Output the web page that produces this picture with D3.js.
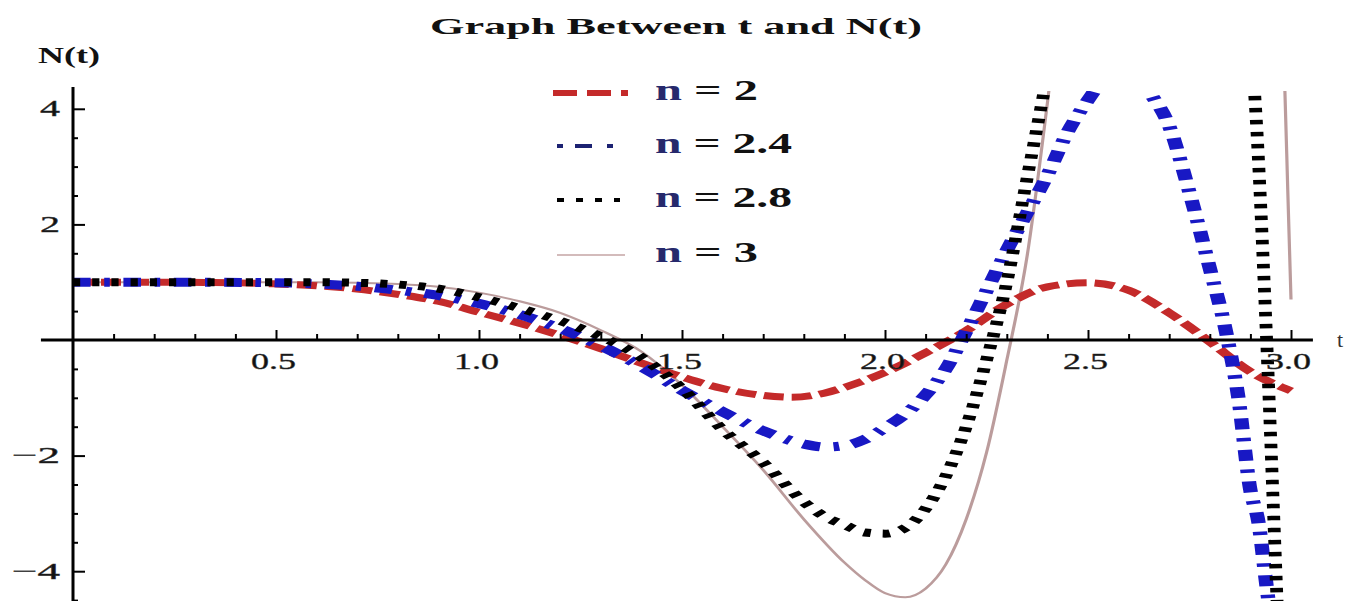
<!DOCTYPE html>
<html>
<head>
<meta charset="utf-8">
<script src="https://cdn.jsdelivr.net/npm/d3@7/dist/d3.min.js"></script>
<style>
  body { margin: 0; background: #fff; }
  svg { display: block; }
</style>
</head>
<body>
<svg id="chart"></svg>
<script>
// values
const tN2 = [0, 0.2, 0.4, 0.5, 0.6, 0.7, 0.8, 0.9, 1.0, 1.1, 1.2, 1.3, 1.4, 1.5, 1.6, 1.7, 1.77, 1.85, 1.9, 2.0, 2.1, 2.2, 2.3, 2.4, 2.5, 2.6, 2.7, 2.8, 2.9, 3.0];
const vN2 = [1, 1, 0.99, 0.97, 0.94, 0.88, 0.79, 0.67, 0.48, 0.29, 0.08, -0.15, -0.4, -0.64, -0.84, -0.96, -0.99, -0.92, -0.82, -0.56, -0.22, 0.16, 0.62, 0.92, 0.99, 0.86, 0.47, -0.03, -0.55, -0.88];

const tN24 = [0, 0.3, 0.5, 0.6, 0.7, 0.8, 0.9, 1.0, 1.1, 1.2, 1.3, 1.4, 1.5, 1.6, 1.7, 1.8, 1.85, 1.9, 1.95, 2.0, 2.05, 2.1, 2.15, 2.2, 2.25, 2.3, 2.35, 2.4, 2.45, 2.5, 2.55, 2.6, 2.65, 2.7, 2.75, 2.8, 2.84, 2.87, 2.9, 2.92, 2.94, 2.97];
const vN24 = [1, 1, 0.99, 0.97, 0.93, 0.86, 0.77, 0.63, 0.44, 0.2, -0.1, -0.46, -0.87, -1.24, -1.57, -1.8, -1.85, -1.83, -1.72, -1.52, -1.28, -0.95, -0.5, 0.15, 0.85, 1.55, 2.2, 2.85, 3.6, 4.15, 4.6, 4.75, 4.3, 3.7, 2.55, 1.24, 0.14, -0.98, -2.6, -3.16, -4.27, -5.8];

const tN28 = [0, 0.3, 0.5, 0.6, 0.7, 0.8, 0.9, 1.0, 1.1, 1.2, 1.3, 1.4, 1.5, 1.6, 1.7, 1.8, 1.85, 1.9, 1.95, 2.0, 2.05, 2.1, 2.15, 2.2, 2.25, 2.3, 2.35, 2.4, 2.45, 2.55, 2.7, 2.82, 2.88, 2.91, 2.94, 2.965, 2.98];
const vN28 = [1, 1, 1, 1, 0.99, 0.96, 0.89, 0.74, 0.55, 0.33, 0.06, -0.3, -0.84, -1.55, -2.12, -2.8, -3.05, -3.2, -3.33, -3.35, -3.25, -2.92, -2.35, -1.5, -0.35, 1.0, 2.8, 4.6, 6.5, 9, 10, 8, 6, 4.3, 0, -4.4, -7];

const tN3 = [0, 0.3, 0.5, 0.6, 0.7, 0.8, 0.9, 1.0, 1.1, 1.2, 1.3, 1.4, 1.5, 1.6, 1.7, 1.8, 1.9, 1.95, 2.0, 2.05, 2.1, 2.15, 2.2, 2.25, 2.3, 2.35, 2.4, 2.45, 2.55, 2.7, 2.85, 2.95, 2.985, 2.992, 3.0];
const vN3 = [1, 1, 1, 1, 0.99, 0.97, 0.92, 0.82, 0.67, 0.47, 0.17, -0.2, -0.78, -1.5, -2.25, -3.1, -3.85, -4.15, -4.38, -4.45, -4.3, -3.88, -3.1, -1.95, -0.35, 1.45, 4.1, 7, 11, 13, 12, 8, 4.3, 2.6, 0.7];

const legendNames = ['n = 2', 'n = 2.4', 'n = 2.8', 'n = 3'];
const xMajorTicks = [0.5, 1.0, 1.5, 2.0, 2.5, 3.0];
const xTickLabels = ['0.5', '1.0', '1.5', '2.0', '2.5', '3.0'];
const yMajorTicks = [-4, -2, 2, 4];
const yTickLabels = ['\u22124', '\u22122', '2', '4'];

const W = 1349, H = 601;
const SX = 1.6; // the picture is stretched sideways, strokes too

const svg = d3.select('#chart')
  .attr('width', W)
  .attr('height', H)
  .style('background', '#fff');

const x = d3.scaleLinear().domain([0, 3]).range([73, 1291]);
const xIn = d3.scaleLinear().domain([0, 3]).range([73 / SX, 1291 / SX]);
const y = d3.scaleLinear().domain([-4, 4]).range([571.2, 108.8]);

const serif = '"Liberation Serif", "Times New Roman", serif';

// title and axis names
svg.append('text')
  .attr('x', 430).attr('y', 34)
  .attr('font-family', serif).attr('font-weight', 'bold').attr('font-size', 24)
  .attr('textLength', 492).attr('lengthAdjust', 'spacingAndGlyphs')
  .attr('fill', '#111')
  .text('Graph Between t and N(t)');

svg.append('text')
  .attr('x', 38).attr('y', 63)
  .attr('font-family', serif).attr('font-weight', 'bold').attr('font-size', 24)
  .attr('textLength', 62).attr('lengthAdjust', 'spacingAndGlyphs')
  .attr('fill', '#111')
  .text('N(t)');

svg.append('text')
  .attr('x', 1337).attr('y', 347)
  .attr('font-family', serif).attr('font-size', 22)
  .attr('fill', '#333')
  .text('t');

// curves
const styles = [
  { color: '#c42a2a', width: 7, dash: '12.5,5' },
  { color: '#1818c4', width: 9, dash: '11,8.5,3.5,8.5' },
  { color: '#000', width: 8, dash: '4.5,7.5' },
  { color: '#bb9c9c', width: 2, dash: null }
];
const data = [
  tN2.map((t, i) => ({ t, v: vN2[i] })),
  tN24.map((t, i) => ({ t, v: vN24[i] })),
  tN28.map((t, i) => ({ t, v: vN28[i] })),
  tN3.map((t, i) => ({ t, v: vN3[i] }))
];

svg.append('clipPath').attr('id', 'plotClip')
  .append('rect')
  .attr('x', 60).attr('y', 91)
  .attr('width', 1260).attr('height', H - 91);

const line = d3.line()
  .x(d => xIn(d.t))
  .y(d => y(d.v))
  .curve(d3.curveMonotoneX);

const plot = svg.append('g').attr('clip-path', 'url(#plotClip)')
  .append('g').attr('transform', `scale(${SX},1)`);

// draw n=3 first so the thick ones sit on top, like the picture
[3, 0, 1, 2].forEach(i => {
  plot.append('path')
    .datum(data[i])
    .attr('fill', 'none')
    .attr('stroke', styles[i].color)
    .attr('stroke-width', styles[i].width)
    .attr('stroke-dasharray', styles[i].dash)
    .attr('stroke-linecap', 'butt')
    .attr('d', line);
});

// x axis
const axisY = y(0);
svg.append('line')
  .attr('x1', x(-0.079)).attr('x2', x(3.054))
  .attr('y1', axisY).attr('y2', axisY)
  .attr('stroke', '#000').attr('stroke-width', 3);

const xMinor = d3.range(1, 31).map(d => d / 10).filter(d => Math.abs(d * 2 - Math.round(d * 2)) > 1e-6);

svg.append('g')
  .attr('transform', `translate(0,${axisY})`)
  .call(d3.axisBottom(x).tickValues(xMinor).tickSizeInner(-6).tickSizeOuter(0).tickFormat(''))
  .call(g => g.select('.domain').remove())
  .call(g => g.selectAll('line').attr('stroke-width', 2));

const gx = svg.append('g')
  .attr('transform', `translate(0,${axisY})`)
  .call(d3.axisBottom(x).tickValues(xMajorTicks).tickSizeInner(-10).tickSizeOuter(0)
    .tickPadding(29).tickFormat((d, i) => xTickLabels[i]))
  .call(g => g.select('.domain').remove())
  .call(g => g.selectAll('line').attr('stroke-width', 2));

gx.selectAll('text')
  .attr('font-family', serif).attr('font-size', 24).attr('fill', '#111')
  .attr('stroke', '#333').attr('stroke-width', 0.4)
  .attr('dy', 0).attr('dx', -3)
  .attr('textLength', 45).attr('lengthAdjust', 'spacingAndGlyphs');

// y axis
svg.append('line')
  .attr('x1', x(0)).attr('x2', x(0))
  .attr('y1', 87).attr('y2', H)
  .attr('stroke', '#000').attr('stroke-width', 3);

const yMinor = d3.range(-9, 9).map(d => d / 2).filter(d => d !== 0 && d % 2 !== 0);

svg.append('g')
  .attr('transform', `translate(${x(0)},0)`)
  .call(d3.axisLeft(y).tickValues(yMinor).tickSizeInner(-5).tickSizeOuter(0).tickFormat(''))
  .call(g => g.select('.domain').remove())
  .call(g => g.selectAll('line').attr('stroke-width', 2));

const gy = svg.append('g')
  .attr('transform', `translate(${x(0)},0)`)
  .call(d3.axisLeft(y).tickValues(yMajorTicks).tickSizeInner(-12).tickSizeOuter(0)
    .tickPadding(13).tickFormat((d, i) => yTickLabels[i]))
  .call(g => g.select('.domain').remove())
  .call(g => g.selectAll('line').attr('stroke-width', 2));

gy.selectAll('text')
  .attr('font-family', serif).attr('font-size', 24).attr('fill', '#111')
  .attr('stroke', '#333').attr('stroke-width', 0.4)
  .attr('dy', 7)
  .attr('textLength', (d, i) => yTickLabels[i].length > 1 ? 48 : 20)
  .attr('lengthAdjust', 'spacingAndGlyphs');

// legend
const legY = [93, 146, 200, 255];
const legSample = [
  { x1: 553, x2: 628, width: 6, dash: '24,10', color: '#c42a2a' },
  { x1: 557, x2: 613, width: 4, dash: '6,12,17,15', color: '#1c2272' },
  { x1: 557, x2: 620, width: 4, dash: '7,12', color: '#000' },
  { x1: 557, x2: 625, width: 1.6, dash: null, color: '#c4a4a4' }
];

const legend = svg.append('g');
legendNames.forEach((name, i) => {
  const s = legSample[i];
  legend.append('line')
    .attr('x1', s.x1).attr('x2', s.x2)
    .attr('y1', legY[i]).attr('y2', legY[i])
    .attr('stroke', s.color).attr('stroke-width', s.width)
    .attr('stroke-dasharray', s.dash);

  const txt = legend.append('text')
    .attr('x', 655).attr('y', legY[i] + 7)
    .attr('font-family', serif).attr('font-weight', 'bold').attr('font-size', 30)
    .attr('textLength', name.length > 5 ? 137 : 103)
    .attr('lengthAdjust', 'spacingAndGlyphs')
    .attr('fill', '#111');
  txt.append('tspan').attr('fill', '#26296c').text(name.slice(0, 1));
  txt.append('tspan').text(name.slice(1));
});
</script>
</body>
</html>
